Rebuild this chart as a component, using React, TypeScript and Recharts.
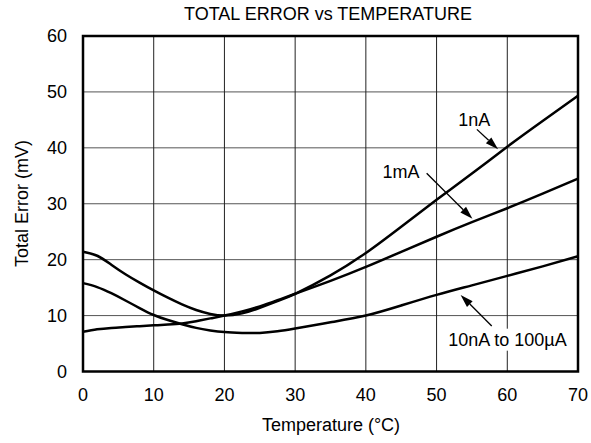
import React from 'react';
import {
  LineChart,
  Line,
  XAxis,
  YAxis,
  CartesianGrid,
  ReferenceArea,
  ReferenceLine,
} from 'recharts';

const temps = [0, 2, 4, 6, 8, 10, 12, 14, 16, 18, 20, 22.5, 25, 27.5, 30, 35, 40, 45, 50, 55, 60, 65, 70];
const err1nA = [21.4, 20.7, 19.1, 17.4, 15.9, 14.5, 13.2, 12.0, 11.0, 10.3, 10.0, 10.4, 11.4, 12.6, 13.9, 17.2, 21.2, 25.9, 30.7, 35.4, 40.2, 44.8, 49.3];
const err1mA = [7.1, 7.55, 7.8, 7.95, 8.1, 8.25, 8.4, 8.6, 9.0, 9.5, 10.0, 10.75, 11.65, 12.75, 13.9, 16.2, 18.7, 21.4, 24.1, 26.7, 29.2, 31.8, 34.5];
const err10nA = [15.8, 15.1, 14.0, 12.7, 11.35, 10.1, 9.2, 8.45, 7.8, 7.35, 7.05, 6.9, 6.9, 7.2, 7.7, 8.8, 10.0, 11.8, 13.7, 15.4, 17.1, 18.8, 20.6];

const xTicks = [0, 10, 20, 30, 40, 50, 60, 70];
const yTicks = [0, 10, 20, 30, 40, 50, 60];

const title = 'TOTAL ERROR vs TEMPERATURE';
const xLabel = 'Temperature (°C)';
const yLabel = 'Total Error (mV)';

// annotation arrows: [tail, tip] in data coordinates
const arrow1nA = [{ x: 55.7, y: 43.3 }, { x: 58.7, y: 39.75 }];
const arrow1mA = [{ x: 48.6, y: 35.45 }, { x: 55.07, y: 27.3 }];
const arrow10nA = [{ x: 57.8, y: 8.14 }, { x: 53.4, y: 13.7 }];

const data = temps.map((t, i) => ({
  t,
  a: err1nA[i],
  b: err1mA[i],
  c: err10nA[i],
}));

const FONT = '"Liberation Sans", Arial, Helvetica, sans-serif';

const makeArrow = (text: string, dx: number, dy: number, bg: boolean) => (props: any) => {
  const { x1, y1, x2, y2 } = props;
  const ang = Math.atan2(y2 - y1, x2 - x1);
  const L = 13;
  const W = 4;
  const bx = x2 - L * Math.cos(ang);
  const by = y2 - L * Math.sin(ang);
  const px = -Math.sin(ang) * W;
  const py = Math.cos(ang) * W;
  const tx = x1 + dx;
  const ty = y1 + dy;
  return (
    <g>
      <line x1={x1} y1={y1} x2={bx} y2={by} stroke="#000" strokeWidth={1.3} />
      <polygon points={`${x2},${y2} ${bx + px},${by + py} ${bx - px},${by - py}`} fill="#000" />
      {bg && <rect x={tx - 63} y={ty - 17} width={126} height={22} fill="#fff" />}
      <text x={tx} y={ty} textAnchor="middle" fontSize={18} fontFamily={FONT} fill="#000">
        {text}
      </text>
    </g>
  );
};

export default function App() {
  return (
    <div style={{ position: 'absolute', left: 0, top: 0, width: 591, height: 443, background: '#fff', fontFamily: FONT }}>
      <div
        style={{
          position: 'absolute',
          left: 328,
          top: 5,
          transform: 'translateX(-50%)',
          whiteSpace: 'nowrap',
          fontSize: 18,
          lineHeight: '18px',
          color: '#000',
        }}
      >
        {title}
      </div>
      <LineChart width={591} height={443} data={data} margin={{ top: 36, right: 13, bottom: 0, left: 0 }}>
        <CartesianGrid horizontal={true} vertical={false} stroke="#555" strokeWidth={1} />
        <CartesianGrid horizontal={false} vertical={true} stroke="#222" strokeWidth={1} />
        <XAxis
          dataKey="t"
          type="number"
          domain={[0, 70]}
          ticks={xTicks}
          axisLine={false}
          tickLine={false}
          tickMargin={11}
          height={71.5}
          tick={{ fill: '#000', fontSize: 18, fontFamily: FONT }}
          label={() => (
            <text x={331} y={431} textAnchor="middle" fontSize={18} fontFamily={FONT} fill="#000">
              {xLabel}
            </text>
          )}
        />
        <YAxis
          type="number"
          domain={[0, 60]}
          ticks={yTicks}
          axisLine={false}
          tickLine={false}
          tickMargin={10}
          width={83}
          tick={{ fill: '#000', fontSize: 18, fontFamily: FONT }}
          label={() => (
            <text
              x={21.5}
              y={203.5}
              transform="rotate(-90 21.5 203.5)"
              textAnchor="middle"
              dy="0.36em"
              fontSize={18}
              fontFamily={FONT}
              fill="#000"
            >
              {yLabel}
            </text>
          )}
        />
        <Line dataKey="a" type="natural" stroke="#000" strokeWidth={2.5} dot={false} activeDot={false} isAnimationActive={false} />
        <Line dataKey="b" type="natural" stroke="#000" strokeWidth={2.5} dot={false} activeDot={false} isAnimationActive={false} />
        <Line dataKey="c" type="natural" stroke="#000" strokeWidth={2.5} dot={false} activeDot={false} isAnimationActive={false} />
        <ReferenceLine segment={arrow1nA} shape={makeArrow('1nA', -2.7, -3.6, false)} ifOverflow="visible" />
        <ReferenceLine segment={arrow1mA} shape={makeArrow('1mA', -25.7, 4.4, false)} ifOverflow="visible" />
        <ReferenceLine segment={arrow10nA} shape={makeArrow('10nA to 100µA', 15.8, 19.7, true)} ifOverflow="visible" />
        <ReferenceArea x1={0} x2={70} y1={0} y2={60} fill="none" stroke="#000" strokeWidth={2.5} ifOverflow="visible" />
      </LineChart>
    </div>
  );
}
